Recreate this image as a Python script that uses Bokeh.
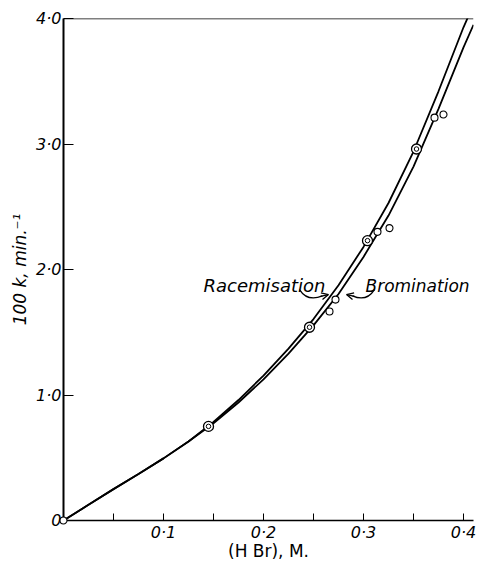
from bokeh.plotting import figure
from bokeh.models import Span, Label, FixedTicker, Arrow, OpenHead
from bokeh.embed import file_html
from bokeh.resources import INLINE

# --- data ---
hbr = [0.0, 0.025, 0.05, 0.075, 0.10, 0.125, 0.15, 0.175, 0.20, 0.225,
       0.25, 0.275, 0.30, 0.325, 0.35, 0.375, 0.40, 0.41]
racemisation = [0.0, 0.125, 0.25, 0.37, 0.495, 0.63, 0.785, 0.96, 1.155, 1.37,
                1.605, 1.875, 2.18, 2.53, 2.94, 3.42, 3.93, 4.11]
bromination = [0.0, 0.125, 0.25, 0.37, 0.495, 0.63, 0.775, 0.94, 1.125, 1.33,
               1.555, 1.805, 2.10, 2.43, 2.82, 3.28, 3.77, 3.95]

both_x = [0.145, 0.246, 0.304, 0.353]
both_y = [0.75, 1.54, 2.23, 2.96]
single_x = [0.266, 0.272, 0.314, 0.326, 0.371, 0.380]
single_y = [1.665, 1.76, 2.30, 2.33, 3.21, 3.235]
origin_x = [0.0]
origin_y = [0.0]

x_ticks = [0.05, 0.1, 0.15, 0.2, 0.25, 0.3, 0.35, 0.4]
x_tick_labels = ["", "0·1", "", "0·2", "", "0·3", "", "0·4"]
y_ticks = [0, 1, 2, 3, 4]
y_tick_labels = ["0", "1·0", "2·0", "3·0", "4·0"]

FONT = "DejaVu Sans"

p = figure(width=481, height=564, output_backend="svg", toolbar_location=None,
           x_range=(0, 0.41), y_range=(0, 4.0),
           min_border_left=63, min_border_right=8, min_border_top=18, min_border_bottom=44)
p.outline_line_color = None
p.grid.grid_line_color = None
p.background_fill_color = "white"
p.border_fill_color = "white"

# axes
p.xaxis.ticker = FixedTicker(ticks=x_ticks)
p.xaxis.major_label_overrides = dict(zip(x_ticks, x_tick_labels))
p.yaxis.ticker = FixedTicker(ticks=y_ticks)
p.yaxis.major_label_overrides = dict(zip(y_ticks, y_tick_labels))
for ax in (p.xaxis, p.yaxis):
    ax.axis_line_color = "black"
    ax.major_tick_line_color = "black"
    ax.major_tick_out = 0
    ax.minor_tick_line_color = None
    ax.major_label_text_font = FONT
    ax.major_label_text_font_style = "italic"
    ax.major_label_text_font_size = "16px"
    ax.major_label_text_color = "black"
p.xaxis.major_tick_in = 7
p.yaxis.major_tick_in = 10
p.xaxis.axis_line_width = 1.5
p.yaxis.axis_line_width = 2
p.xaxis.major_label_standoff = 2
p.yaxis.major_label_standoff = 2

p.yaxis.axis_label = "100 k, min.⁻¹"
p.yaxis.axis_label_text_font = FONT
p.yaxis.axis_label_text_font_style = "italic"
p.yaxis.axis_label_text_font_size = "17px"
p.yaxis.axis_label_text_color = "black"
p.yaxis.axis_label_standoff = 3

p.xaxis.axis_label = "(H Br), M."
p.xaxis.axis_label_text_font = FONT
p.xaxis.axis_label_text_font_style = "normal"
p.xaxis.axis_label_text_font_size = "17px"
p.xaxis.axis_label_text_color = "black"
p.xaxis.axis_label_standoff = -4

# top frame line
p.add_layout(Span(location=4.0, dimension="width", line_color="black", line_width=1.5))

# curves
p.line(hbr, racemisation, line_color="black", line_width=1.8)
p.line(hbr, bromination, line_color="black", line_width=1.8)

# points
p.scatter(both_x, both_y, size=10, marker="circle", fill_color="white",
          line_color="black", line_width=1.3)
p.scatter(both_x, both_y, size=4.5, marker="circle", fill_color="white",
          line_color="black", line_width=1.0)
p.scatter(single_x, single_y, size=7, marker="circle", fill_color="white",
          line_color="black", line_width=1.1)
p.scatter(origin_x, origin_y, size=7, marker="circle", fill_color="white",
          line_color="black", line_width=1.1, level="overlay")

# curve labels with arrows
p.add_layout(Label(x=0.140, y=1.87, text="Racemisation", text_font=FONT,
                   text_font_style="italic", text_font_size="18px",
                   text_color="black", text_baseline="alphabetic"))
p.add_layout(Label(x=0.302, y=1.87, text="Bromination", text_font=FONT,
                   text_font_style="italic", text_font_size="17px",
                   text_color="black", text_baseline="alphabetic"))
p.quadratic(x0=[0.236, 0.311], y0=[1.84, 1.84], x1=[0.259, 0.289], y1=[1.79, 1.79],
            cx=[0.244, 0.303], cy=[1.74, 1.74], line_color="black", line_width=1.3)
p.add_layout(Arrow(x_start=0.257, y_start=1.785, x_end=0.265, y_end=1.80,
                   line_color="black", line_width=1.3,
                   end=OpenHead(size=7, line_color="black", line_width=1.3)))
p.add_layout(Arrow(x_start=0.291, y_start=1.785, x_end=0.283, y_end=1.80,
                   line_color="black", line_width=1.3,
                   end=OpenHead(size=7, line_color="black", line_width=1.3)))

open("out.html", "w").write(file_html(p, INLINE))
